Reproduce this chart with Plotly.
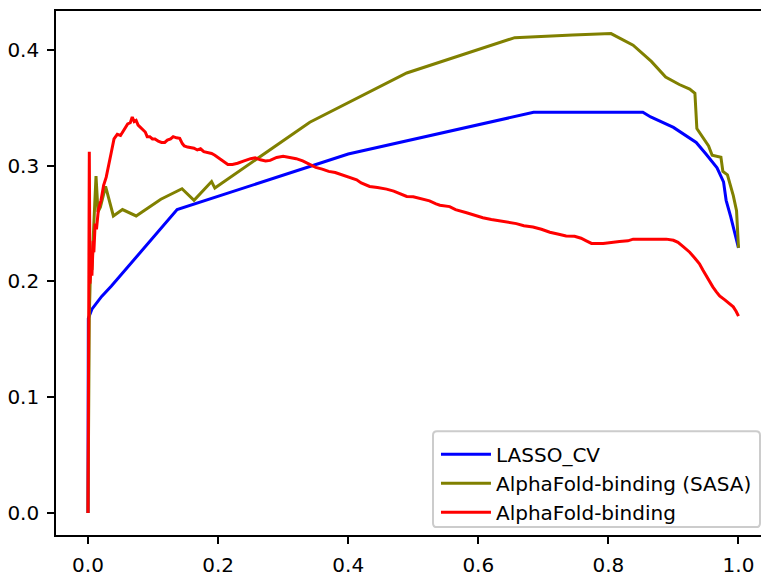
import plotly.graph_objects as go

# LASSO_CV curve
lasso_x = [0.0, 0.0005, 0.006, 0.021, 0.036, 0.137, 0.40, 0.685, 0.853, 0.865,
           0.90, 0.935, 0.95, 0.967, 0.977, 0.981, 0.988, 0.996, 1.0]
lasso_y = [0.0, 0.168, 0.176, 0.187, 0.196, 0.262, 0.310, 0.346, 0.346, 0.342,
           0.333, 0.320, 0.310, 0.298, 0.286, 0.270, 0.256, 0.237, 0.229]

# AlphaFold-binding (SASA) curve
sasa_x = [0.0, 0.002, 0.004, 0.006, 0.009, 0.0123, 0.0154, 0.019, 0.027, 0.039,
          0.053, 0.074, 0.112, 0.1445, 0.163, 0.190, 0.195, 0.341, 0.490, 0.656,
          0.745, 0.804, 0.838, 0.866, 0.888, 0.909, 0.925, 0.933, 0.936, 0.954,
          0.9595, 0.973, 0.976, 0.983, 0.992, 0.997, 1.0]
sasa_y = [0.0, 0.170, 0.215, 0.210, 0.250, 0.291, 0.260, 0.264, 0.282, 0.2565,
          0.262, 0.2565, 0.271, 0.2800, 0.2700, 0.2862, 0.2806, 0.3375, 0.380, 0.4105,
          0.4128, 0.4140, 0.404, 0.390, 0.3765, 0.370, 0.366, 0.3625, 0.332, 0.317,
          0.309, 0.3072, 0.295, 0.292, 0.274, 0.261, 0.229]

# AlphaFold-binding curve
af_x = [0.0, 0.002, 0.003, 0.005, 0.006, 0.008, 0.009, 0.011, 0.013, 0.016,
        0.020, 0.024, 0.028, 0.032, 0.036, 0.040, 0.045, 0.050, 0.053, 0.057,
        0.061, 0.065, 0.068, 0.071, 0.074, 0.077, 0.081, 0.085, 0.088, 0.091,
        0.095, 0.099, 0.103, 0.108, 0.113, 0.118, 0.122, 0.127, 0.131, 0.136,
        0.141, 0.145, 0.148, 0.153, 0.158, 0.163, 0.168, 0.173, 0.178, 0.185,
        0.190, 0.195, 0.200, 0.205, 0.210, 0.215, 0.222, 0.230, 0.240, 0.250,
        0.257, 0.265, 0.273, 0.280, 0.290, 0.300, 0.310, 0.320, 0.330, 0.340,
        0.350, 0.360, 0.370, 0.380, 0.390, 0.400, 0.413, 0.420, 0.433, 0.445,
        0.459, 0.470, 0.480, 0.490, 0.500, 0.515, 0.525, 0.535, 0.541, 0.556,
        0.565, 0.582, 0.595, 0.607, 0.620, 0.633, 0.645, 0.6585, 0.670, 0.684,
        0.697, 0.710, 0.722, 0.735, 0.748, 0.758, 0.766, 0.774, 0.792, 0.805,
        0.817, 0.830, 0.838, 0.860, 0.889, 0.900, 0.907, 0.915, 0.925, 0.933,
        0.940, 0.945, 0.950, 0.955, 0.9605, 0.966, 0.971, 0.979, 0.986, 0.992,
        0.9965, 1.0]
af_y = [0.0, 0.312, 0.198, 0.215, 0.205, 0.235, 0.225, 0.250, 0.245, 0.262,
        0.270, 0.283, 0.290, 0.300, 0.312, 0.323, 0.327, 0.326, 0.329, 0.332,
        0.336, 0.337, 0.342, 0.338, 0.339, 0.335, 0.333, 0.331, 0.329, 0.325,
        0.325, 0.323, 0.323, 0.321, 0.320, 0.320, 0.322, 0.323, 0.325, 0.324,
        0.3235, 0.319, 0.317, 0.316, 0.3155, 0.315, 0.3135, 0.3145, 0.312, 0.311,
        0.3105, 0.309, 0.307, 0.305, 0.3025, 0.301, 0.301, 0.302, 0.304, 0.306,
        0.3067, 0.305, 0.304, 0.3045, 0.307, 0.308, 0.307, 0.306, 0.304, 0.301,
        0.2985, 0.297, 0.295, 0.294, 0.292, 0.290, 0.2877, 0.285, 0.282, 0.281,
        0.2797, 0.278, 0.2755, 0.2734, 0.273, 0.2712, 0.2695, 0.267, 0.2658, 0.2646,
        0.262, 0.2593, 0.257, 0.255, 0.2535, 0.2522, 0.251, 0.2499, 0.248, 0.247,
        0.245, 0.2425, 0.241, 0.2393, 0.239, 0.2373, 0.235, 0.2328, 0.2328, 0.234,
        0.2345, 0.235, 0.2365, 0.2365, 0.2365, 0.2355, 0.2337, 0.230, 0.2252, 0.220,
        0.2152, 0.210, 0.2053, 0.200, 0.1953, 0.191, 0.1874, 0.184, 0.1811, 0.178,
        0.174, 0.170]

x_ticks = [0.0, 0.2, 0.4, 0.6, 0.8, 1.0]
y_ticks = [0.0, 0.1, 0.2, 0.3, 0.4]

FONT = "DejaVu Sans"
W, H = 761, 577
M_L, M_R, M_T, M_B = 56, 0, 11, 36
PLOT_W = W - M_L - M_R
PLOT_H = H - M_T - M_B

fig = go.Figure()
fig.add_trace(go.Scatter(x=lasso_x, y=lasso_y, mode="lines", name="LASSO_CV",
                         line=dict(color="blue", width=3)))
fig.add_trace(go.Scatter(x=sasa_x, y=sasa_y, mode="lines", name="AlphaFold-binding (SASA)",
                         line=dict(color="olive", width=3)))
fig.add_trace(go.Scatter(x=af_x, y=af_y, mode="lines", name="AlphaFold-binding",
                         line=dict(color="red", width=3)))

axis_common = dict(
    showgrid=False, zeroline=False, showline=True, linecolor="black", linewidth=1.6,
    ticks="outside", ticklen=7, tickwidth=1.6, tickcolor="black",
    tickfont=dict(family=FONT, size=20, color="black"), tickformat=".1f",
)


def px_x(px):
    """Pixel column -> paper x."""
    return (px - M_L) / PLOT_W


def px_y(px):
    """Pixel row -> paper y."""
    return (H - M_B - px) / PLOT_H


# Rounded, semi-transparent legend frame
x0, x1 = px_x(433), px_x(760)
y0, y1 = px_y(533), px_y(436)
rx, ry = 4 / PLOT_W, 4 / PLOT_H
frame_path = (
    f"M{x0 + rx},{y1} L{x1 - rx},{y1} Q{x1},{y1} {x1},{y1 - ry} "
    f"L{x1},{y0 + ry} Q{x1},{y0} {x1 - rx},{y0} "
    f"L{x0 + rx},{y0} Q{x0},{y0} {x0},{y0 + ry} "
    f"L{x0},{y1 - ry} Q{x0},{y1} {x0 + rx},{y1} Z"
)
fig.add_shape(type="path", path=frame_path, xref="paper", yref="paper",
              fillcolor="rgba(255,255,255,0.8)", line=dict(color="#cccccc", width=2),
              layer="above")

fig.update_layout(
    width=W, height=H,
    margin=dict(l=M_L, r=M_R, t=M_T, b=M_B),
    paper_bgcolor="white", plot_bgcolor="white",
    xaxis=dict(range=[-0.0492, 1.0346], tickvals=x_ticks, mirror=True,
               ticklabelstandoff=4, **axis_common),
    yaxis=dict(range=[-0.019, 0.4335], tickvals=y_ticks, mirror=False,
               ticklabelstandoff=4, **axis_common),
    legend=dict(
        x=0.9943, xanchor="right", y=0.006, yanchor="bottom",
        bgcolor="rgba(0,0,0,0)", borderwidth=0,
        font=dict(family=FONT, size=20, color="black"),
        itemwidth=50,
    ),
    showlegend=True,
)

fig.write_html("out.html")
